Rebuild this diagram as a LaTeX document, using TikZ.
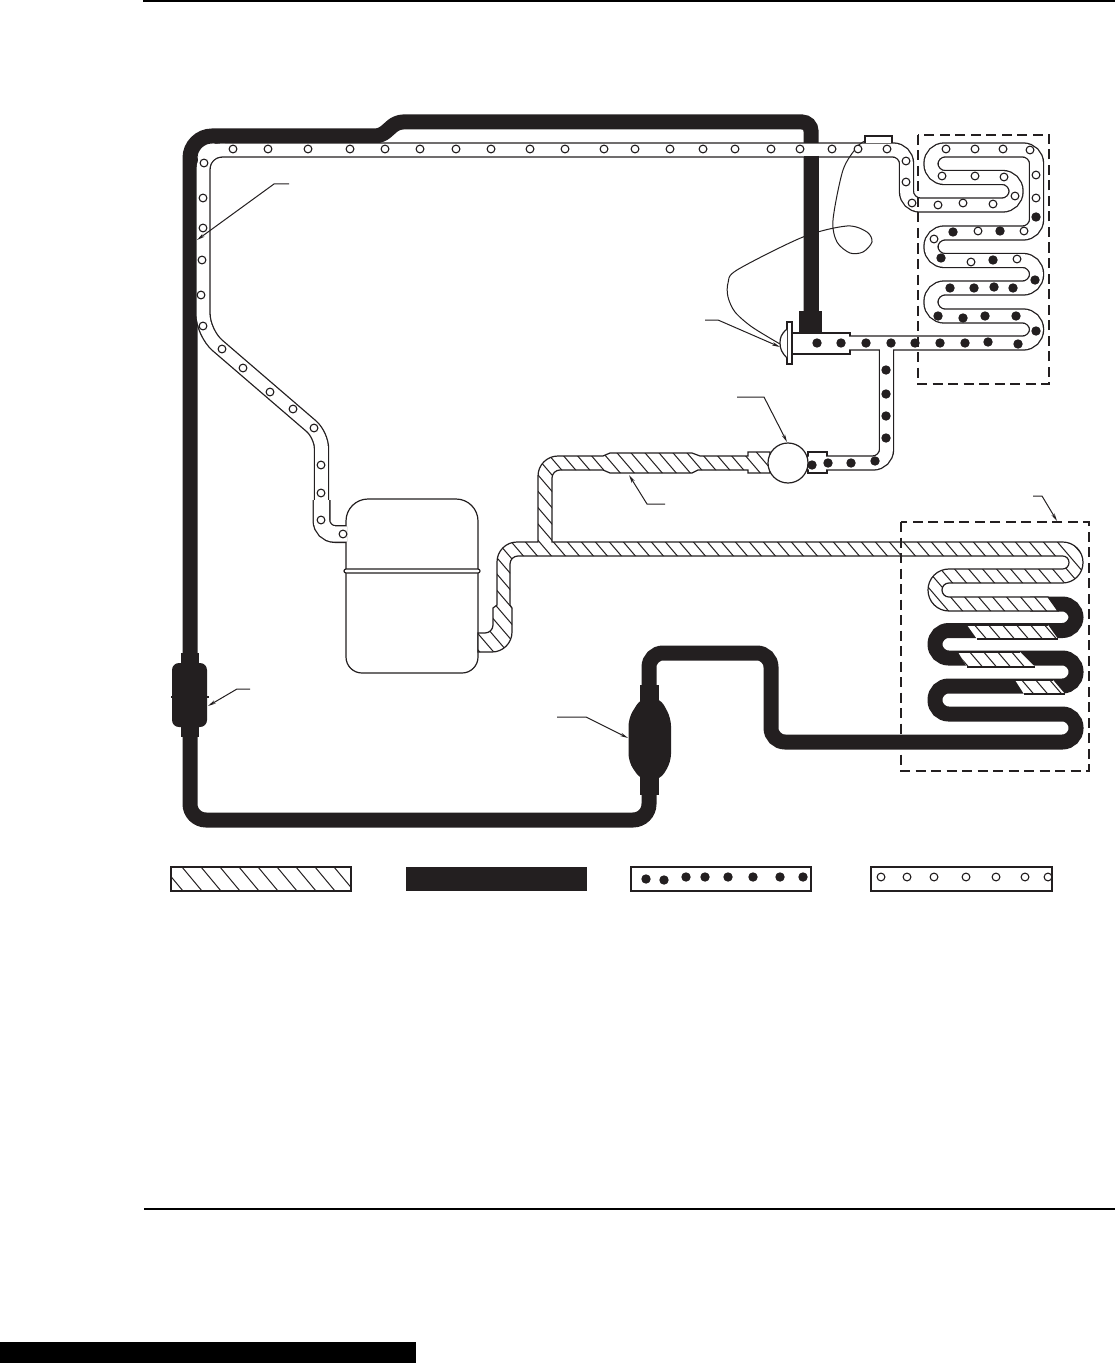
\documentclass[tikz,border=0pt]{standalone}
\usepackage{xcolor}
\usetikzlibrary{arrows.meta}
\definecolor{inkblack}{HTML}{231F20}
\tikzset{
  solidtube/.style={draw=inkblack, line width=15pt},
  tubewall/.style={draw=inkblack, line width=15.4pt},
  tubeinner/.style={draw=white, line width=12.8pt},
  thinline/.style={draw=inkblack, line width=1.2pt},
  leader/.style={draw=inkblack, line width=1pt, -{Stealth[length=8pt,width=3.5pt]}},
  dashbox/.style={draw=inkblack, line width=1.15pt, dash pattern=on 10pt off 5.5pt},
  opendot/.style={draw=inkblack, fill=white, line width=1.1pt},
  fulldot/.style={fill=inkblack},
}
% outlines of the hatched runs, all used twice (clip, then draw)
\def\hatchoutline{(478,633) [rounded corners=8pt] -- (493,633) [sharp corners] -- (493,608) -- (497,605)
  [rounded corners=20pt] -- (497,542) [sharp corners] -- (538,542) [rounded corners=20pt] -- (538,456)
  [sharp corners] -- (603,456) -- (610,453) -- (692,453) -- (700,456) -- (748,456) -- (748,452) -- (770,452)
  -- (770,473) -- (748,473) -- (748,470) -- (698,470) -- (692,473) -- (610,473) -- (603,470)
  [rounded corners=8pt] -- (552,470) [sharp corners] -- (552,542)
  [rounded corners=20.4pt] -- (1083,542) -- (1083,583) [rounded corners=6.9pt] -- (942,583) -- (942,597)
  [sharp corners] -- (1048,597) -- (1058,611) [rounded corners=20.9pt] -- (928,611) -- (928,569)
  [rounded corners=6.4pt] -- (1069,569) -- (1069,556) [rounded corners=8pt] -- (510,556)
  [sharp corners] -- (510,605) -- (512,608) [rounded corners=20pt] -- (512,652) [sharp corners] -- (478,652) -- cycle}
\def\hatchsegs{(967,625) -- (1048,625) -- (1058,639) -- (977,639) -- cycle
  (958,652) -- (1020,652) -- (1035,667) -- (967,667) -- cycle
  (1015,680) -- (1053,680) -- (1065,694) -- (1024,694) -- cycle}
% centre lines of the open tubes
\def\suctionline{(347,534) [rounded corners=13.5pt] -- (321.5,534) -- (321.5,435) [rounded corners=19pt] -- (203,333) -- (203,150)
  [rounded corners=13.5pt] -- (906.5,150) -- (906.5,205) -- (1016,205) -- (1016,177.5) -- (931,177.5) -- (931,150)
  -- (1036.5,150) -- (1036.5,233) -- (931,233) -- (931,260.5) -- (1036.5,260.5) -- (1036.5,288)
  -- (931,288) -- (931,316) -- (1036.5,316) -- (1036.5,343) [sharp corners] -- (793,343)}
\def\liquidline{(808,463) [rounded corners=13.5pt] -- (886.5,463) [sharp corners] -- (886.5,345)}

\begin{document}
\begin{tikzpicture}[x=1pt, y=-1pt, >=Stealth]
  \useasboundingbox (0,0) rectangle (1115,1364);

  % Page rules and bar
  \fill (143,0) rectangle (1115,2);
  \fill (144,1208) rectangle (1115,1210);
  \fill (0,1342) rectangle (416,1363);

  % Solid discharge line
  \draw[solidtube] (811,330) [rounded corners=9pt] -- (811,122) [rounded corners=6pt] -- (397,122) -- (381,136)
    [rounded corners=22pt] -- (190,136) [rounded corners=16pt] -- (190,820) -- (649,820) [sharp corners] -- (649,780);
  \draw[solidtube] (649,705) [rounded corners=14pt] -- (649,653) -- (771,653) -- (771,742)
    [rounded corners=13.6pt] -- (1076,742) -- (1076,714) -- (935,714) -- (935,686) -- (1076,686)
    -- (1076,658) -- (935,658) -- (935,630.5) -- (1076,630.5) -- (1076,604) [sharp corners] -- (1030,604);

  % Left drier
  \fill[inkblack] (181,653) rectangle (199,737);
  \fill[inkblack, rounded corners=7pt] (172,663) rectangle (207,727);
  \fill[inkblack] (171,696) rectangle (209,698);

  % Accumulator
  \fill[inkblack] (640,685) rectangle (659,795);
  \fill[inkblack, rounded corners=8pt] (641,698) -- (660,698) -- (671,718) -- (671,762) -- (660,780) -- (641,780) -- (628.5,762) -- (628.5,718) -- cycle;

  % Compressor
  \draw[thinline, fill=white] (346,585) [rounded corners=22pt] -- (346,499) -- (478,499) [rounded corners=16pt] -- (478,673) -- (346,673) [sharp corners] -- cycle;
  \draw[thinline, fill=white, rounded corners=2pt] (344,569) rectangle (480,573);

  % Open tubes
  \draw[tubewall] \suctionline \liquidline;
  \draw[draw=inkblack, line width=18pt] (321.5,500) [rounded corners=13.5pt] -- (321.5,534) [sharp corners] -- (346,534);
  \draw[thinline, fill=white] (792,333) rectangle (850,354);
  \draw[thinline, fill=white] (808,452) rectangle (827,473);
  \draw[draw=white, line width=15.4pt] (321.5,500) [rounded corners=13.5pt] -- (321.5,534) [sharp corners] -- (347,534);
  \draw[tubeinner] \suctionline \liquidline;
  \fill[white] (793,334) rectangle (849,353);
  \fill[white] (809,453) rectangle (826,472);
  % tube shares its outer wall with the solid line at this corner
  \fill[white] (198,180) [rounded corners=15pt] -- (198,144) [sharp corners] -- (225,144) -- (225,150) -- (210,150) -- (206,153) -- (203,158) -- (203,180) -- cycle;

  % Hatched runs
  \fill[white] \hatchoutline \hatchsegs;
  \begin{scope}
    \clip \hatchoutline \hatchsegs;
    \foreach \x in {-500,-486,...,1100}
      \draw[thinline, line width=1pt] (\x,440) -- (\x+300,790);
  \end{scope}
  \draw[thinline] \hatchoutline;
  \draw[thinline] (967,625) -- (1048,625) (977,639) -- (1058,639);
  \draw[thinline] (958,652) -- (1020,652) (967,667) -- (1035,667);
  \draw[thinline] (1015,680) -- (1053,680) (1024,694) -- (1065,694);

  % Strainer ball
  \draw[thinline, fill=white] (788,463) circle (20);

  % Capillary and its bulb
  \draw[thinline, line width=1pt] plot[smooth] coordinates {(780,344) (752,327) (735,312) (728,297) (728,283) (737,270) (803,237) (847,226) (867,232) (872,242) (863,252) (850,253) (837,242) (833,220) (843,170) (857,147) (865,141)};
  \draw[solidtube] (811,156) -- (811,320);
  \draw[thinline, fill=white] (865,143) -- (865,136) -- (892,136) -- (892,143);

  % T fitting
  \fill[inkblack] (799,311) rectangle (822,333);
  \draw[thinline, fill=white] (787,322) rectangle (792,364);
  \draw[thinline, fill=white] (787,329) .. controls (781,334) and (780,338) .. (780,343) .. controls (780,349) and (782,353) .. (787,358);

  % Open dots
  \foreach \x/\y in {233/149, 268/149, 308/149, 350/149, 385/149, 420/149, 456/149, 491/149, 530/149, 565/149,
    604/149, 635/149, 670/149, 703/149, 735/149, 771/149, 800/149, 832/149, 858/149, 887/149, 906/161, 906/182, 912/203,
    938/205, 963/203, 993/204, 1015/196, 1004/177, 975/176, 942/176, 946/149, 975/149, 1003/149, 1030/150, 1036/175,
    1036/198, 1024/231, 978/231, 934/239, 971/262, 1017/259, 204/163, 203/198, 203/228, 202/260, 201/295, 203/326,
    222/349, 243/368, 270/392, 293/409, 314/428, 321/465, 321/493, 321/520, 343/534,
    881/877, 907/877, 934/877, 966/877, 996/877, 1025/877, 1048/877}
    \draw[opendot] (\x,\y) circle (3.9);

  % Filled dots
  \foreach \x/\y in {1036/217, 1000/231, 953/232, 941/258, 993/260, 1035/280, 950/288, 974/288, 994/287, 1013/288,
    938/316, 963/318, 985/316, 1016/316, 1036/331, 1018/344, 988/342, 965/343, 940/343, 915/343, 891/343, 866/343,
    841/343, 817/343, 886/370, 886/394, 886/416, 886/438, 875/461, 851/463, 828/463, 812/465,
    646/879, 664/880, 686/877, 705/877, 728/877, 753/877, 780/877, 803/877}
    \fill[fulldot] (\x,\y) circle (4.7);

  % Leaders
  \draw[leader] (289,184) -- (274,184) -- (197,240);
  \draw[leader] (250,689) -- (237,689) -- (208,706);
  \draw[leader] (557,717) -- (586,717) -- (628,738);
  \draw[leader] (705,320) -- (718,320) -- (780,347);
  \draw[leader] (737,397) -- (764,397) -- (787,442);
  \draw[leader] (665,504) -- (647,504) -- (629,475);
  \draw[leader] (1033,496) -- (1042,496) -- (1057,521);

  % Dashed coil boxes
  \draw[dashbox] (918,135) rectangle (1049,384);
  \draw[dashbox] (901,522) rectangle (1089,771);

  % Legend
  \begin{scope}
    \clip (171,867) rectangle (351,891);
    \foreach \x in {163,182,...,340}
      \draw[thinline, line width=1pt] (\x,867) -- (\x+20,891);
  \end{scope}
  \draw[thinline] (171,867) rectangle (351,891);
  \fill[inkblack] (406,867) rectangle (587,891);
  \draw[thinline] (631,867) rectangle (811,891);
  \draw[thinline] (871,867) rectangle (1052,891);
\end{tikzpicture}
\end{document}
